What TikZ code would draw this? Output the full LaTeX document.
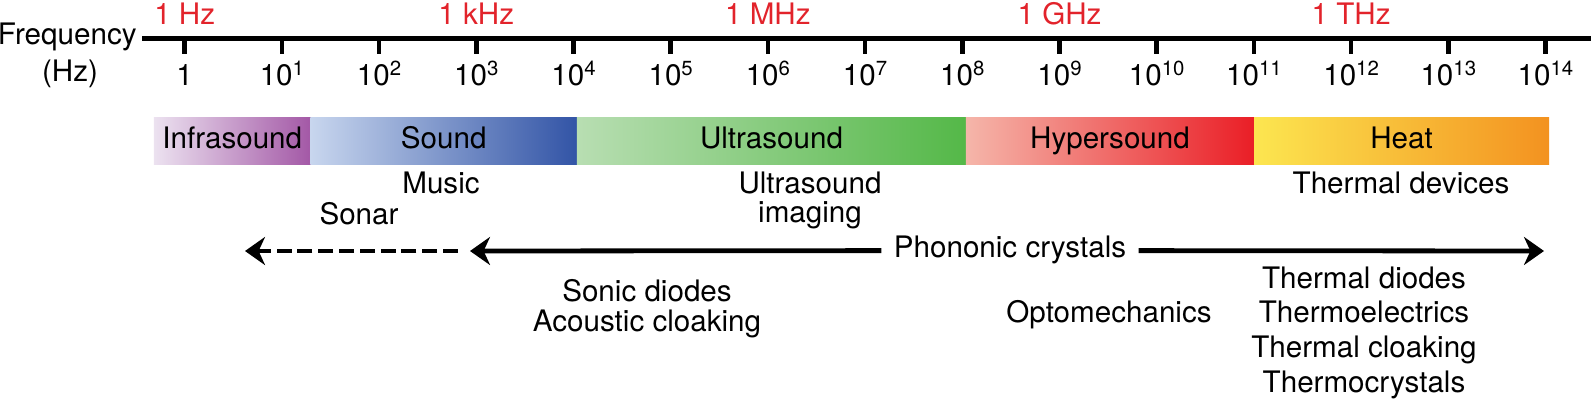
\documentclass[tikz,border=0pt]{standalone}
\usepackage{fontspec}
\setmainfont{TeX Gyre Heros}
\usetikzlibrary{arrows.meta}
\definecolor{freqred}{RGB}{226,35,43}
\definecolor{infraA}{RGB}{236,226,240}
\definecolor{infraB}{RGB}{163,88,166}
\definecolor{soundA}{RGB}{200,214,238}
\definecolor{soundB}{RGB}{50,84,166}
\definecolor{ultraA}{RGB}{184,222,178}
\definecolor{ultraB}{RGB}{84,184,72}
\definecolor{hyperA}{RGB}{245,182,170}
\definecolor{hyperB}{RGB}{234,30,38}
\definecolor{heatA}{RGB}{252,230,80}
\definecolor{heatB}{RGB}{243,146,32}
\newcommand\tpow[1]{10\raisebox{0.32em}{\fontsize{10.2pt}{10pt}\selectfont #1}}
\tikzset{
  lbl/.style={font=\fontsize{14.8pt}{17pt}\selectfont, inner sep=0pt, text height=0.9em, text depth=0.18em},
  flbl/.style={lbl, text=freqred},
  tickline/.style={line width=2.3pt},
  axisline/.style={line width=2.35pt},
  bar/.style={lbl, minimum height=23.35pt},
  arr/.style={line width=2.4pt, -{Stealth[length=10pt,width=14pt,inset=3.2pt]}},
  dasharr/.style={arr, dash pattern=on 7.5pt off 2.9pt}
}
\begin{document}
\begin{tikzpicture}[x=0.5pt,y=-0.5pt]
\useasboundingbox (0,0) rectangle (1591,402);
% axis
\node[lbl, anchor=east] (freq) at (137,37) {Frequency};
\node[lbl] (hz) at (70,74) {(Hz)};
\coordinate (axs) at (142,38.5);
\coordinate (axe) at (1591,38.5);
\draw[axisline] (axs) -- (axe);
\foreach \i in {0,...,14} {
  \pgfmathsetmacro\xx{184.7+\i*97.2}
  \coordinate (tk\i) at (\xx,38.5);
  \coordinate (tb\i) at (\xx,54);
  \draw[tickline] (tk\i) -- (tb\i);
}
\node[lbl] (t0) at (184.7,78) {1};
\foreach \i in {1,...,14} {
  \pgfmathsetmacro\xx{184.7+\i*97.2}
  \node[lbl] (t\i) at (\xx,78) {\tpow{\i}};
}
\node[flbl] (f0) at (184.7,17) {1 Hz};
\node[flbl] (f3) at (476.3,17) {1 kHz};
\node[flbl] (f6) at (767.9,17) {1 MHz};
\node[flbl] (f9) at (1059.5,17) {1 GHz};
\node[flbl] (f12) at (1351.1,17) {1 THz};
% bars
\node[bar, left color=infraA, right color=infraB, minimum width=78.5pt] (infra) at (232.25,141) {Infrasound};
\node[bar, left color=soundA, right color=soundB, minimum width=133.5pt] (sound) at (443.75,141) {Sound};
\node[bar, left color=ultraA, right color=ultraB, minimum width=194.75pt] (ultra) at (771.5,141) {Ultrasound};
\node[bar, left color=hyperA, right color=hyperB, minimum width=144.25pt] (hyper) at (1110,141) {Hypersound};
\node[bar, left color=heatA, right color=heatB, minimum width=147.5pt] (heat) at (1401.5,141) {Heat};
% applications
\node[lbl] (music) at (441,186) {Music};
\node[lbl] (sonar) at (359,217) {Sonar};
\node[lbl] (uimg1) at (810,186) {Ultrasound};
\node[lbl] (uimg2) at (810,215) {imaging};
\node[lbl] (tdev) at (1401,186) {Thermal devices};
% phononic crystals arrows
\node[lbl] (pc) at (1010,250.6) {Phononic crystals};
\coordinate (lt) at (470,251);
\coordinate (ds) at (458,251);
\coordinate (ld) at (245,251);
\coordinate (rt) at (1544,251);
\draw[arr, shorten <=6pt] (pc.west) -- (lt);
\draw[dasharr] (ds) -- (ld);
\draw[arr, shorten <=6pt] (pc.east) -- (rt);
% lower labels
\node[lbl] (sd) at (647,294) {Sonic diodes};
\node[lbl] (ac) at (647,324) {Acoustic cloaking};
\node[lbl] (om) at (1109,315) {Optomechanics};
\node[lbl] (td) at (1364,281) {Thermal diodes};
\node[lbl] (te) at (1364,315) {Thermoelectrics};
\node[lbl] (tc) at (1364,350) {Thermal cloaking};
\node[lbl] (tcr) at (1364,385) {Thermocrystals};
\end{tikzpicture}
\end{document}
